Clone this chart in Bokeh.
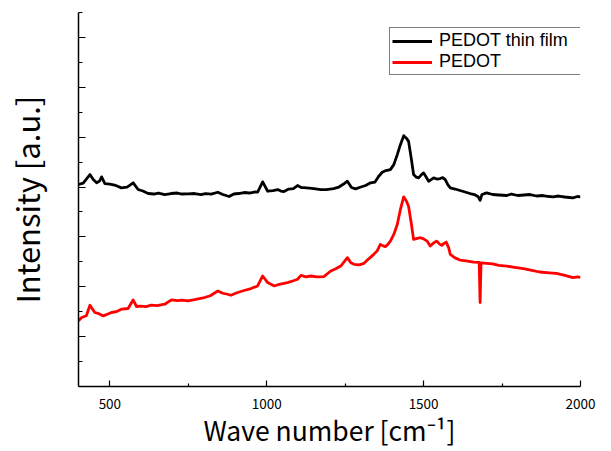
from bokeh.plotting import figure
from bokeh.models import Range1d, FixedTicker, Legend, LegendItem, CustomJSTickFormatter
from bokeh.embed import file_html
from bokeh.resources import INLINE

# PEDOT thin film (black)
film_x = [400, 415, 436.5, 447, 457.8, 467, 473.7, 484, 500, 515,
          537, 555, 574.3, 590, 605, 622, 640, 655, 675, 695,
          715, 730, 749, 770, 790, 805, 823, 844, 860, 880,
          895, 910, 927.6, 945, 960, 971, 987, 1003, 1020, 1035,
          1045, 1055, 1070, 1085, 1098, 1110, 1118, 1135, 1150, 1172,
          1190, 1213, 1230, 1245, 1257, 1270, 1283, 1300, 1315, 1331,
          1345, 1357, 1368, 1380, 1394, 1405, 1416, 1426, 1436.5, 1445,
          1452, 1460, 1468, 1476, 1484, 1492, 1500, 1508, 1516, 1524,
          1532, 1542, 1553, 1561, 1569, 1577, 1585, 1600, 1616, 1632,
          1648, 1662, 1674, 1680, 1686, 1701, 1720, 1740, 1765, 1780,
          1800, 1820, 1839, 1860, 1880, 1900, 1913, 1930, 1950, 1965,
          1976, 1990, 2000]
film_y = [4.05, 4.08, 4.25, 4.15, 4.084, 4.12, 4.204, 4.07, 4.06, 4.04,
          3.984, 4.0, 4.084, 3.95, 3.92, 3.87, 3.86, 3.88, 3.85, 3.87,
          3.88, 3.86, 3.864, 3.87, 3.85, 3.87, 3.856, 3.896, 3.85, 3.81,
          3.86, 3.87, 3.89, 3.88, 3.9, 3.896, 4.104, 3.916, 3.93, 3.95,
          3.92, 3.91, 3.96, 3.97, 4.03, 3.99, 3.99, 3.98, 3.97, 3.95,
          3.95, 3.97, 4.0, 4.06, 4.116, 3.99, 3.964, 4.0, 4.03, 4.084,
          4.1, 4.216, 4.296, 4.33, 4.35, 4.45, 4.65, 4.85, 5.03, 4.98,
          4.916, 4.6, 4.25, 4.2, 4.184, 4.24, 4.284, 4.2, 4.116, 4.15,
          4.184, 4.16, 4.17, 4.19, 4.15, 4.05, 3.984, 3.96, 3.93, 3.9,
          3.87, 3.85, 3.804, 3.736, 3.85, 3.884, 3.85, 3.84, 3.83, 3.86,
          3.83, 3.84, 3.85, 3.82, 3.83, 3.81, 3.804, 3.82, 3.8, 3.79,
          3.784, 3.81, 3.804]

# PEDOT (red)
pedot_x = [400, 410, 425, 436.5, 445, 452, 465, 479, 492, 505,
           520, 537, 558, 574, 585, 600, 615, 632, 650, 675,
           696, 715, 730, 749, 770, 785, 802, 820, 835, 844,
           860, 875, 886, 905, 925, 950, 971, 987, 1003, 1024,
           1040, 1066, 1085, 1098, 1109, 1125, 1140, 1160, 1182, 1204,
           1220, 1236, 1257, 1268, 1278, 1295, 1310, 1325, 1341, 1352,
           1362, 1371, 1378, 1386, 1394, 1405, 1416, 1426, 1436.5, 1445,
           1452, 1460, 1468, 1480, 1490, 1500, 1511, 1521, 1532, 1542,
           1550, 1558, 1565, 1572, 1580, 1585, 1600, 1616, 1635, 1659,
           1677, 1680, 1683, 1701, 1720, 1740, 1765, 1790, 1818, 1845,
           1870, 1900, 1923, 1950, 1976, 1990, 2000]
pedot_y = [1.316, 1.384, 1.42, 1.63, 1.55, 1.484, 1.46, 1.416, 1.45, 1.484,
           1.5, 1.55, 1.564, 1.736, 1.604, 1.61, 1.6, 1.63, 1.62, 1.65,
           1.736, 1.72, 1.73, 1.716, 1.74, 1.76, 1.784, 1.82, 1.88, 1.916,
           1.87, 1.85, 1.83, 1.88, 1.92, 1.964, 2.016, 2.216, 2.084, 2.016,
           2.05, 2.084, 2.12, 2.15, 2.23, 2.2, 2.216, 2.2, 2.204, 2.316,
           2.36, 2.416, 2.584, 2.48, 2.45, 2.44, 2.47, 2.56, 2.65, 2.72,
           2.85, 2.82, 2.804, 2.85, 2.916, 3.05, 3.25, 3.55, 3.804, 3.72,
           3.616, 3.3, 2.95, 2.97, 2.984, 2.96, 2.916, 2.816, 2.88, 2.916,
           2.86, 2.83, 2.87, 2.896, 2.78, 2.65, 2.58, 2.536, 2.52, 2.496,
           2.49, 1.684, 2.48, 2.47, 2.46, 2.43, 2.416, 2.39, 2.364, 2.33,
           2.296, 2.28, 2.27, 2.23, 2.184, 2.2, 2.19]

x_ticks = [500, 1000, 1500, 2000]
x_minor = [750, 1250, 1750]
y_ticks = [1, 2, 3, 4, 5, 6, 7]
y_minor = [0.5, 1.5, 2.5, 3.5, 4.5, 5.5, 6.5, 7.5]
labels = ["PEDOT thin film", "PEDOT"]

FONT = "Noto Sans CJK JP"

p = figure(width=611, height=451, output_backend="svg", toolbar_location=None,
           x_range=Range1d(400, 2000), y_range=Range1d(0, 7.5),
           min_border_left=77, min_border_right=31, min_border_top=12, min_border_bottom=63)
p.outline_line_color = None
p.xgrid.visible = False
p.ygrid.visible = False
p.background_fill_color = "white"
p.border_fill_color = "white"

r1 = p.line(film_x, film_y, line_color="black", line_width=2.8, line_join="round")
r2 = p.line(pedot_x, pedot_y, line_color="red", line_width=2.8, line_join="round")

xa = p.xaxis[0]
xa.ticker = FixedTicker(ticks=x_ticks, minor_ticks=x_minor)
xa.axis_line_width = 1.5
xa.axis_line_color = "black"
xa.major_tick_in = 6
xa.major_tick_out = 0
xa.minor_tick_in = 3
xa.minor_tick_out = 0
xa.major_tick_line_width = 1.2
xa.minor_tick_line_width = 1.2
xa.major_label_text_font = FONT
xa.major_label_text_font_size = "13.5px"
xa.major_label_text_color = "black"
xa.major_label_standoff = 12
xa.axis_label = "Wave number [cm⁻¹]"
xa.axis_label_text_font = FONT
xa.axis_label_text_font_size = "26.5px"
xa.axis_label_text_font_style = "normal"
xa.axis_label_text_color = "black"
xa.axis_label_standoff = -2

ya = p.yaxis[0]
ya.ticker = FixedTicker(ticks=y_ticks, minor_ticks=y_minor)
ya.formatter = CustomJSTickFormatter(code="return ''")
ya.axis_line_width = 1.5
ya.axis_line_color = "black"
ya.major_tick_in = 7
ya.major_tick_out = 0
ya.minor_tick_in = 4
ya.minor_tick_out = 0
ya.major_tick_line_width = 1.2
ya.minor_tick_line_width = 1.2
ya.major_label_standoff = 0
ya.axis_label = "Intensity [a.u.]"
ya.axis_label_text_font = FONT
ya.axis_label_text_font_size = "31px"
ya.axis_label_text_font_style = "normal"
ya.axis_label_text_color = "black"
ya.axis_label_standoff = 30

legend = Legend(items=[LegendItem(label=labels[0], renderers=[r1]),
                       LegendItem(label=labels[1], renderers=[r2])],
                location=(311, 311))
legend.border_line_color = "black"
legend.border_line_width = 1
legend.background_fill_color = "white"
legend.background_fill_alpha = 1
legend.label_text_font = "Liberation Sans"
legend.label_text_font_size = "18px"
legend.label_text_color = "black"
legend.glyph_width = 40
legend.glyph_height = 20
legend.label_height = 20
legend.label_width = 143
legend.spacing = 0
legend.padding = 2
legend.margin = 0
legend.label_standoff = 7
p.add_layout(legend, "center")

open("out.html", "w").write(file_html(p, INLINE))
